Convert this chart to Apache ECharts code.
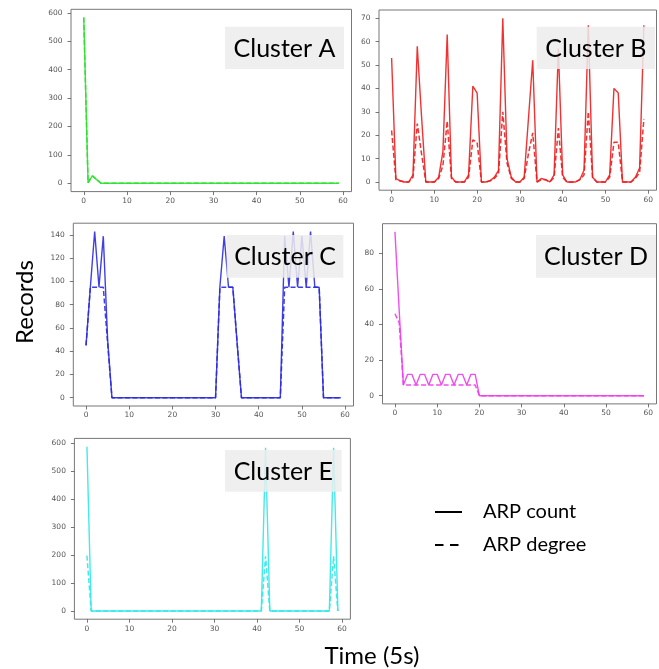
<!DOCTYPE html>
<html>
<head>
<meta charset="utf-8">
<script src="https://cdn.jsdelivr.net/npm/echarts@6/dist/echarts.min.js"></script>
<style>
html,body{margin:0;padding:0;background:#fff;}
#c{width:659px;height:669px;}
</style>
</head>
<body>
<div id="c"></div>
<script>
// ---- data (time index 0..59, 5 s steps) ----
const timeSteps = [0,1,2,3,4,5,6,7,8,9,10,11,12,13,14,15,16,17,18,19,20,21,22,23,24,25,26,27,28,29,30,31,32,33,34,35,36,37,38,39,40,41,42,43,44,45,46,47,48,49,50,51,52,53,54,55,56,57,58,59];

const clusterA_count = [
  583,2,26,13,0,0,0,0,0,0,
  0,0,0,0,0,0,0,0,0,0,
  0,0,0,0,0,0,0,0,0,0,
  0,0,0,0,0,0,0,0,0,0,
  0,0,0,0,0,0,0,0,0,0,
  0,0,0,0,0,0,0,0,0,0];
const clusterA_degree = [
  583,2,26,13,0,0,0,0,0,0,
  0,0,0,0,0,0,0,0,0,0,
  0,0,0,0,0,0,0,0,0,0,
  0,0,0,0,0,0,0,0,0,0,
  0,0,0,0,0,0,0,0,0,0,
  0,0,0,0,0,0,0,0,0,0];

const clusterB_count = [
  53,1.5,0.5,0,0,3,58,28,0,0,
  0,2,13,63,2,0,0,0,3,41,
  38,0,0,0.5,2,5,70,10,2,0,
  0,2,27,52,0,1.5,1,0,3,57,
  3,0,0,0,1,5,67,2,0,0,
  0,3,40,38,0,0,0,2,6,67];
const clusterB_degree = [
  22,1,0.5,0,0,2,25,12,0,0,
  0,1.5,7,26,1.5,0,0,0,2,18,
  17,0,0,0.5,1.5,3.5,30,8,1.5,0,
  0,1.5,12,21,0,1,1,0,2,23,
  2,0,0,0,1,3,30,2,0,0,
  0,2,17,17,0,0,0,1.5,4,27];

const clusterC_count = [
  45,95,143,95,139,50,0,0,0,0,
  0,0,0,0,0,0,0,0,0,0,
  0,0,0,0,0,0,0,0,0,0,
  0,95,139,95,95,47,0,0,0,0,
  0,0,0,0,0,0,139,95,143,95,
  139,95,143,95,95,0,0,0,0,0];
const clusterC_degree = [
  45,95,95,95,95,47,0,0,0,0,
  0,0,0,0,0,0,0,0,0,0,
  0,0,0,0,0,0,0,0,0,0,
  0,95,95,95,95,47,0,0,0,0,
  0,0,0,0,0,0,95,95,95,95,
  95,95,95,95,95,0,0,0,0,0];

const clusterD_count = [
  92,48,6,12,12,6,12,12,6,12,
  12,6,12,12,6,12,12,6,12,12,
  0,0,0,0,0,0,0,0,0,0,
  0,0,0,0,0,0,0,0,0,0,
  0,0,0,0,0,0,0,0,0,0,
  0,0,0,0,0,0,0,0,0,0];
const clusterD_degree = [
  46,41,6,6,6,6,6,6,6,6,
  6,6,6,6,6,6,6,6,6,6,
  0,0,0,0,0,0,0,0,0,0,
  0,0,0,0,0,0,0,0,0,0,
  0,0,0,0,0,0,0,0,0,0,
  0,0,0,0,0,0,0,0,0,0];

const clusterE_count = [
  588,0,0,0,0,0,0,0,0,0,
  0,0,0,0,0,0,0,0,0,0,
  0,0,0,0,0,0,0,0,0,0,
  0,0,0,0,0,0,0,0,0,0,
  0,0,584,0,0,0,0,0,0,0,
  0,0,0,0,0,0,0,0,584,0];
const clusterE_degree = [
  198,0,0,0,0,0,0,0,0,0,
  0,0,0,0,0,0,0,0,0,0,
  0,0,0,0,0,0,0,0,0,0,
  0,0,0,0,0,0,0,0,0,0,
  0,0,196,0,0,0,0,0,0,0,
  0,0,0,0,0,0,0,0,196,0];

// tick labels
const xTicks = [0,10,20,30,40,50,60];
const yTicksA = [0,100,200,300,400,500,600];
const yTicksB = [0,10,20,30,40,50,60,70];
const yTicksC = [0,20,40,60,80,100,120,140];
const yTicksD = [0,20,40,60,80];
const yTicksE = [0,100,200,300,400,500,600];

const clusterNames = ['Cluster A','Cluster B','Cluster C','Cluster D','Cluster E'];
const legendNames = ['ARP count','ARP degree'];
const axisTitleX = 'Time (5s)';
const axisTitleY = 'Records';

// ---- layout / style ----
const panels = [
  {name: clusterNames[0], count: clusterA_count, degree: clusterA_degree, yTicks: yTicksA, color: '#2be02b',
   grid: {left: 71, top: 9.3, width: 280.5, height: 182.3}, box: [225, 26.7, 119, 42.3]},
  {name: clusterNames[1], count: clusterB_count, degree: clusterB_degree, yTicks: yTicksB, color: '#ee1c1c',
   grid: {left: 379, top: 10, width: 277.5, height: 180.2}, box: [536.7, 26.7, 118.3, 42.3]},
  {name: clusterNames[2], count: clusterC_count, degree: clusterC_degree, yTicks: yTicksC, color: '#2a2ae0',
   grid: {left: 73.3, top: 223.2, width: 280.2, height: 182.8}, box: [226.7, 235, 116.6, 42.7]},
  {name: clusterNames[3], count: clusterD_count, degree: clusterD_degree, yTicks: yTicksD, color: '#ee3cee',
   grid: {left: 382.5, top: 223.7, width: 274, height: 180.2}, box: [536, 235, 120, 42.7]},
  {name: clusterNames[4], count: clusterE_count, degree: clusterE_degree, yTicks: yTicksE, color: '#2ee8e8',
   grid: {left: 74.4, top: 438.4, width: 276, height: 180.8}, box: [225, 450, 116.7, 41.7]}
];

const tickColor = '#555';
const labelFont = 'DejaVu Sans';
const textFont = 'Lato';

const grids = [], xAxes = [], yAxes = [], series = [], graphics = [];
panels.forEach((p, i) => {
  grids.push(Object.assign({show: true, borderColor: '#777', borderWidth: 1, backgroundColor: 'transparent'}, p.grid));
  const xMinD = Math.min(...timeSteps), xMaxD = Math.max(...timeSteps);
  const xPad = 0.05 * (xMaxD - xMinD);
  xAxes.push({
    type: 'value', gridIndex: i, position: 'bottom', min: xMinD - xPad, max: xMaxD + xPad,
    axisLine: {show: false, onZero: false}, splitLine: {show: false},
    axisTick: {show: true, inside: false, length: 3.5, lineStyle: {color: tickColor, width: 0.8}, customValues: xTicks},
    axisLabel: {color: tickColor, fontSize: 7.5, fontFamily: labelFont, margin: 5.5, customValues: xTicks}
  });
  const all = p.count.concat(p.degree);
  const yMinD = Math.min(...all), yMaxD = Math.max(...all);
  const yPad = 0.05 * (yMaxD - yMinD);
  yAxes.push({
    type: 'value', gridIndex: i, position: 'left', min: yMinD - yPad, max: yMaxD + yPad,
    axisLine: {show: false, onZero: false}, splitLine: {show: false},
    axisTick: {show: true, inside: false, length: 3.5, lineStyle: {color: tickColor, width: 0.8}, customValues: p.yTicks},
    axisLabel: {color: tickColor, fontSize: 7.5, fontFamily: labelFont, margin: 8.5, customValues: p.yTicks}
  });
  series.push({
    type: 'line', xAxisIndex: i, yAxisIndex: i, showSymbol: false, symbol: 'none', silent: true,
    data: timeSteps.map((t, k) => [t, p.degree[k]]),
    lineStyle: {color: p.color, width: 1.5, type: [5, 2.5], opacity: 0.9}, z: 2
  });
  series.push({
    type: 'line', xAxisIndex: i, yAxisIndex: i, showSymbol: false, symbol: 'none', silent: true,
    data: timeSteps.map((t, k) => [t, p.count[k]]),
    lineStyle: {color: p.color, width: 1.4, opacity: 0.9}, z: 3
  });
  const b = p.box;
  graphics.push({type: 'rect', z: 100, shape: {x: b[0], y: b[1], width: b[2], height: b[3]},
    style: {fill: 'rgba(236,236,236,0.85)'}});
  graphics.push({type: 'text', z: 101, x: b[0] + b[2] / 2, y: b[1] + b[3] / 2 + 1,
    style: {text: p.name, fill: '#000', font: '25px ' + textFont, textAlign: 'center', textVerticalAlign: 'middle'}});
});

// axis titles
graphics.push({type: 'text', z: 101, x: 372, y: 656,
  style: {text: axisTitleX, fill: '#000', font: '24px ' + textFont, textAlign: 'center', textVerticalAlign: 'middle'}});
graphics.push({type: 'text', z: 101, x: 25, y: 302, rotation: Math.PI / 2,
  style: {text: axisTitleY, fill: '#000', font: '24px ' + textFont, textAlign: 'center', textVerticalAlign: 'middle'}});

// legend
graphics.push({type: 'line', z: 101, shape: {x1: 435, y1: 512, x2: 462, y2: 512}, style: {stroke: '#000', lineWidth: 2}});
graphics.push({type: 'line', z: 101, shape: {x1: 435, y1: 545, x2: 461, y2: 545}, style: {stroke: '#000', lineWidth: 2, lineDash: [8.5, 6.5]}});
graphics.push({type: 'text', z: 101, x: 483, y: 512,
  style: {text: legendNames[0], fill: '#000', font: '20px ' + textFont, textAlign: 'left', textVerticalAlign: 'middle'}});
graphics.push({type: 'text', z: 101, x: 483, y: 545,
  style: {text: legendNames[1], fill: '#000', font: '20px ' + textFont, textAlign: 'left', textVerticalAlign: 'middle'}});

const chart = echarts.init(document.getElementById('c'), null, {renderer: 'canvas'});
chart.setOption({
  animation: false,
  backgroundColor: '#fff',
  grid: grids, xAxis: xAxes, yAxis: yAxes, series: series,
  graphic: {elements: graphics}
});
</script>
</body>
</html>
